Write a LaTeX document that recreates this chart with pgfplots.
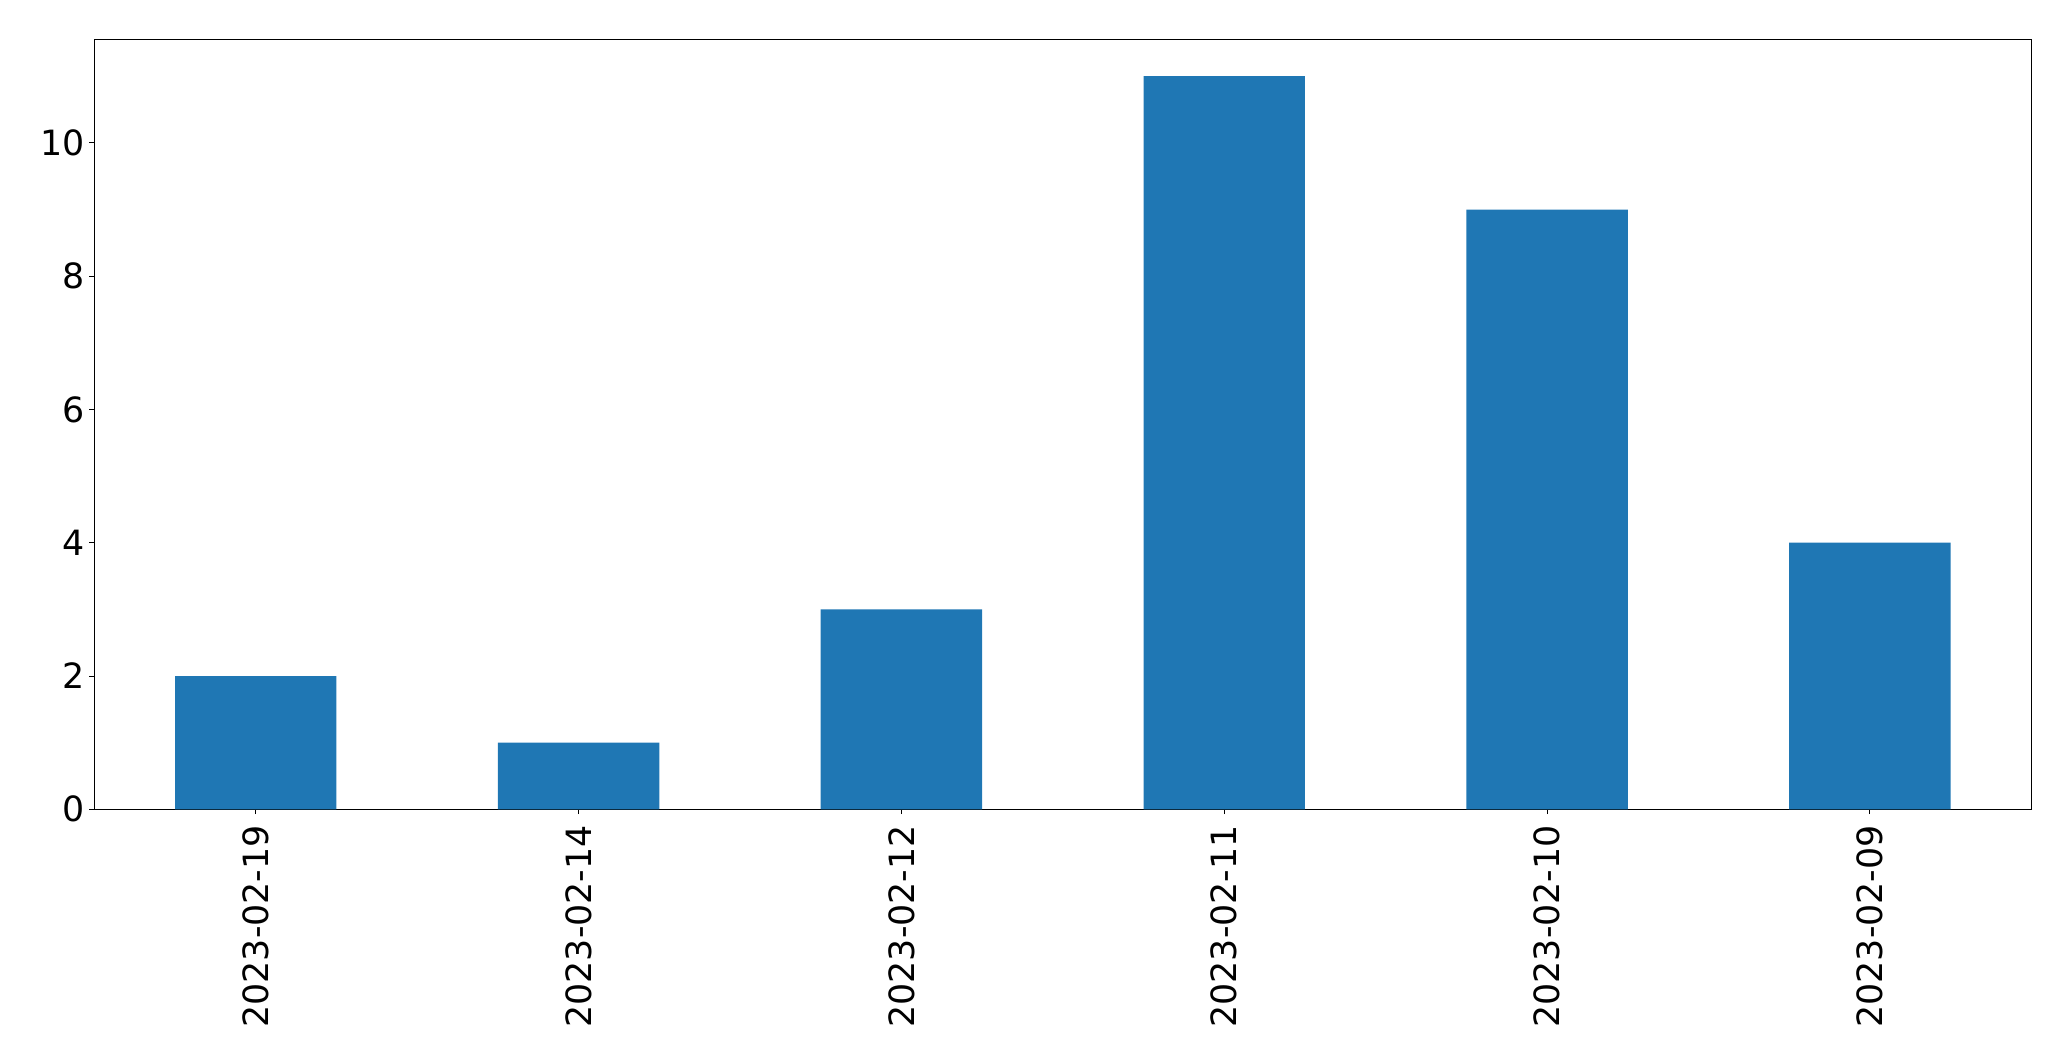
\documentclass[border=0pt]{standalone}
\usepackage{fontspec}
\setmainfont{DejaVu Sans}
\usepackage{pgfplots}
\pgfplotsset{compat=1.18}
\definecolor{tabblue}{HTML}{1F77B4}
\begin{document}
\begin{tikzpicture}
\path[use as bounding box] (-47.15pt,-125.85pt) rectangle (988.35pt,404.65pt);
\begin{axis}[
  at={(0pt,0pt)}, anchor=south west,
  scale only axis,
  width=968.5pt, height=384.85pt,
  xmin=-0.5, xmax=5.5, ymin=0, ymax=11.55,
  xtick={0,1,2,3,4,5},
  xticklabels={2023-02-19,2023-02-14,2023-02-12,2023-02-11,2023-02-10,2023-02-09},
  ytick={0,2,4,6,8,10},
  /pgf/number format/assume math mode=true,
  tick label style={font=\fontsize{17.4}{20}\selectfont},
  x tick label style={rotate=90, anchor=east},
  tick align=outside,
  tick pos=left,
  major tick length=2.4pt,
  axis line style={black, line width=0.5pt},
  every tick/.style={black, line width=0.5pt},
  xticklabel shift=2pt,
  yticklabel shift=-1pt,
]
\addplot[ybar, bar width=0.5, fill=tabblue, draw=none] coordinates {
(0,2) (1,1) (2,3) (3,11) (4,9) (5,4)
};
\end{axis}
\end{tikzpicture}
\end{document}
